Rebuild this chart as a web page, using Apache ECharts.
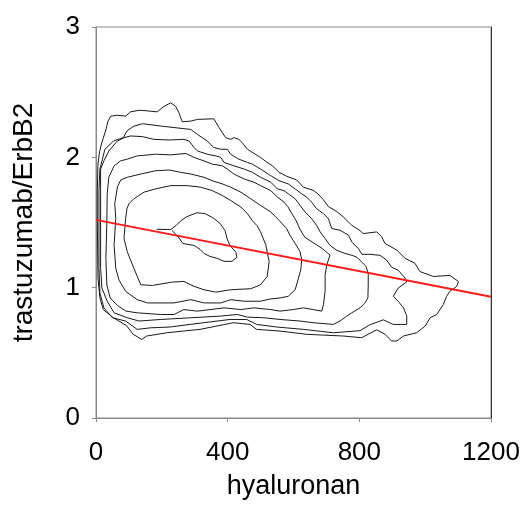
<!DOCTYPE html>
<html>
<head>
<meta charset="utf-8">
<script src="https://cdn.jsdelivr.net/npm/echarts@6/dist/echarts.min.js"></script>
<style>html,body{margin:0;padding:0;background:#fff;}#c{width:525px;height:505px;}</style>
</head>
<body>
<div id="c"></div>
<script>
const xTicks = [0, 400, 800, 1200];
const yTicks = [0, 1, 2, 3];
const regX = [0, 1200];
const regY = [1.52, 0.93];

const contour1 = [[4,1.507],[4,1.758],[6,1.948],[11,2.047],[18,2.116],[29,2.202],[36,2.275],[45,2.316],[65,2.323],[90,2.316],[105,2.349],[131,2.361],[146,2.359],[186,2.349],[207,2.392],[227,2.418],[242,2.392],[252,2.342],[262,2.273],[288,2.278],[308,2.291],[358,2.296],[374,2.227],[394,2.151],[409,2.138],[419,2.151],[434,2.138],[444,2.113],[460,2.062],[480,2.030],[500,1.999],[520,1.961],[536,1.935],[556,1.885],[579,1.855],[610,1.826],[630,1.771],[660,1.747],[674,1.720],[691,1.674],[706,1.622],[732,1.583],[751,1.543],[777,1.479],[802,1.438],[812,1.415],[853,1.428],[868,1.390],[878,1.339],[914,1.288],[939,1.225],[969,1.187],[984,1.124],[1025,1.086],[1075,1.094],[1101,1.048],[1096,1.010],[1075,0.972],[1065,0.934],[1055,0.870],[1035,0.794],[1015,0.769],[1000,0.705],[974,0.654],[934,0.629],[914,0.591],[898,0.591],[878,0.642],[853,0.677],[807,0.616],[751,0.629],[640,0.642],[559,0.667],[488,0.680],[468,0.718],[417,0.731],[316,0.680],[215,0.654],[154,0.629],[139,0.603],[113,0.642],[93,0.708],[53,0.769],[22,0.832],[12,0.921],[6,1.073],[4,1.507]];

const contour2 = [[9,1.507],[9,1.758],[12,1.910],[27,2.062],[53,2.125],[83,2.151],[94,2.202],[113,2.237],[141,2.258],[197,2.240],[267,2.220],[288,2.214],[308,2.176],[338,2.125],[358,2.075],[379,2.062],[399,2.062],[409,2.024],[434,1.986],[460,1.961],[475,1.948],[500,1.910],[531,1.859],[556,1.821],[584,1.796],[605,1.758],[625,1.720],[640,1.695],[655,1.657],[670,1.606],[691,1.568],[706,1.530],[716,1.454],[741,1.441],[767,1.403],[778,1.347],[797,1.301],[808,1.256],[832,1.256],[863,1.248],[883,1.212],[898,1.157],[918,1.134],[939,1.073],[944,1.043],[918,0.997],[903,0.934],[918,0.896],[934,0.845],[944,0.784],[944,0.718],[903,0.718],[873,0.753],[832,0.715],[802,0.670],[721,0.654],[630,0.680],[549,0.698],[488,0.718],[458,0.756],[407,0.756],[286,0.718],[225,0.698],[166,0.692],[125,0.680],[90,0.744],[50,0.769],[24,0.845],[12,0.959],[9,1.149],[9,1.507]];

const contour3 = [[14,1.507],[14,1.720],[14,1.910],[24,1.973],[39,2.049],[65,2.125],[85,2.151],[105,2.164],[141,2.159],[176,2.138],[222,2.133],[267,2.138],[283,2.125],[298,2.075],[308,2.049],[338,2.024],[364,2.011],[379,1.999],[389,1.961],[419,1.935],[450,1.910],[475,1.885],[500,1.847],[531,1.809],[551,1.758],[571,1.745],[584,1.720],[605,1.682],[620,1.631],[635,1.581],[655,1.530],[670,1.479],[681,1.428],[696,1.377],[711,1.324],[732,1.286],[756,1.263],[778,1.248],[793,1.233],[808,1.195],[820,1.164],[827,1.111],[827,1.020],[826,0.921],[817,0.883],[802,0.845],[777,0.807],[762,0.782],[741,0.744],[721,0.718],[660,0.731],[620,0.744],[559,0.756],[510,0.769],[460,0.774],[429,0.794],[379,0.782],[288,0.769],[197,0.756],[131,0.744],[95,0.769],[55,0.807],[34,0.896],[18,0.997],[14,1.149],[14,1.507]];

const contour4 = [[33,1.504],[34,1.720],[39,1.847],[55,1.935],[75,1.973],[95,1.986],[125,2.011],[181,2.024],[227,2.019],[273,2.030],[298,1.999],[328,1.973],[353,1.948],[384,1.935],[399,1.910],[419,1.872],[450,1.834],[480,1.809],[500,1.783],[531,1.745],[551,1.695],[571,1.657],[583,1.621],[595,1.568],[608,1.514],[620,1.446],[635,1.385],[659,1.347],[687,1.301],[711,1.250],[701,1.174],[696,1.098],[696,0.972],[691,0.870],[686,0.820],[660,0.832],[630,0.845],[599,0.832],[559,0.820],[531,0.832],[480,0.845],[440,0.832],[389,0.845],[308,0.820],[267,0.832],[237,0.794],[197,0.794],[125,0.807],[91,0.820],[67,0.860],[43,0.921],[33,1.020],[30,1.225],[33,1.504]];

const contour5 = [[60,1.530],[57,1.644],[65,1.773],[75,1.826],[95,1.847],[136,1.872],[181,1.897],[222,1.903],[257,1.885],[288,1.872],[328,1.847],[358,1.816],[384,1.796],[409,1.771],[440,1.733],[470,1.682],[500,1.631],[531,1.581],[556,1.517],[579,1.454],[589,1.403],[605,1.339],[620,1.276],[625,1.212],[622,1.136],[615,1.073],[605,0.984],[584,0.934],[559,0.921],[529,0.913],[500,0.896],[450,0.896],[409,0.908],[379,0.883],[328,0.883],[288,0.908],[237,0.883],[156,0.883],[125,0.908],[90,0.972],[70,1.058],[60,1.149],[55,1.327],[60,1.530]];

const contour6 = [[90,1.530],[94,1.606],[100,1.644],[115,1.682],[146,1.733],[181,1.758],[227,1.783],[277,1.783],[318,1.771],[353,1.745],[384,1.707],[409,1.669],[440,1.619],[460,1.568],[475,1.514],[489,1.476],[500,1.428],[516,1.327],[526,1.200],[520,1.086],[500,1.022],[470,0.992],[409,0.984],[364,0.966],[328,0.984],[298,1.010],[267,1.048],[232,1.043],[171,1.017],[136,1.022],[115,1.149],[95,1.276],[85,1.377],[90,1.530]];

const contour7 = [[184,1.448],[227,1.446],[243,1.476],[258,1.514],[276,1.545],[307,1.575],[331,1.568],[355,1.537],[377,1.492],[392,1.438],[398,1.377],[407,1.324],[425,1.271],[428,1.233],[413,1.202],[389,1.202],[368,1.225],[346,1.240],[328,1.263],[316,1.294],[298,1.324],[264,1.339],[249,1.393],[231,1.438]];

const contours = [contour1, contour2, contour3, contour4, contour5, contour6, contour7];

const chart = echarts.init(document.getElementById('c'), null, {renderer: 'canvas'});
const font = 'Liberation Sans, Arial, sans-serif';
const series = contours.map(c => ({
  type: 'line', data: c, showSymbol: false, symbol: 'none', smooth: false,
  lineStyle: {color: '#1a1a1a', width: 1}, silent: true, z: 2
}));
series.push({
  type: 'line', data: regX.map((x, i) => [x, regY[i]]), showSymbol: false, symbol: 'none',
  lineStyle: {color: '#ff1a1a', width: 2}, silent: true, z: 3
});
chart.setOption({
  animation: false,
  backgroundColor: '#fff',
  grid: {left: 96, right: 34, top: 27, bottom: 84, show: true, borderColor: '#888', borderWidth: 1},
  xAxis: {
    type: 'value', min: xTicks[0], max: xTicks[xTicks.length - 1], interval: 400,
    name: 'hyaluronan', nameLocation: 'middle', nameGap: 55,
    nameTextStyle: {fontFamily: font, fontSize: 27, color: '#000'},
    axisLine: {show: true, lineStyle: {color: '#888'}},
    axisTick: {show: true, length: 4, inside: false, lineStyle: {color: '#888'}},
    axisLabel: {fontFamily: font, fontSize: 26, color: '#000', margin: 22, formatter: v => String(v)},
    splitLine: {show: false}
  },
  yAxis: [{
    type: 'value', min: yTicks[0], max: yTicks[yTicks.length - 1], interval: 1,
    name: 'trastuzumab/ErbB2', nameLocation: 'middle', nameGap: 58,
    nameTextStyle: {fontFamily: font, fontSize: 28, color: '#000'},
    axisLine: {show: true, lineStyle: {color: '#888'}},
    axisTick: {show: true, length: 4, inside: false, lineStyle: {color: '#888'}},
    axisLabel: {fontFamily: font, fontSize: 26, color: '#000', margin: 16, formatter: v => String(v)},
    splitLine: {show: false}
  }, {
    type: 'value', min: 0, max: 3, position: 'right',
    axisLine: {show: true, lineStyle: {color: '#333'}},
    axisTick: {show: false}, axisLabel: {show: false}, splitLine: {show: false}
  }],
  series: series
});
</script>
</body>
</html>
